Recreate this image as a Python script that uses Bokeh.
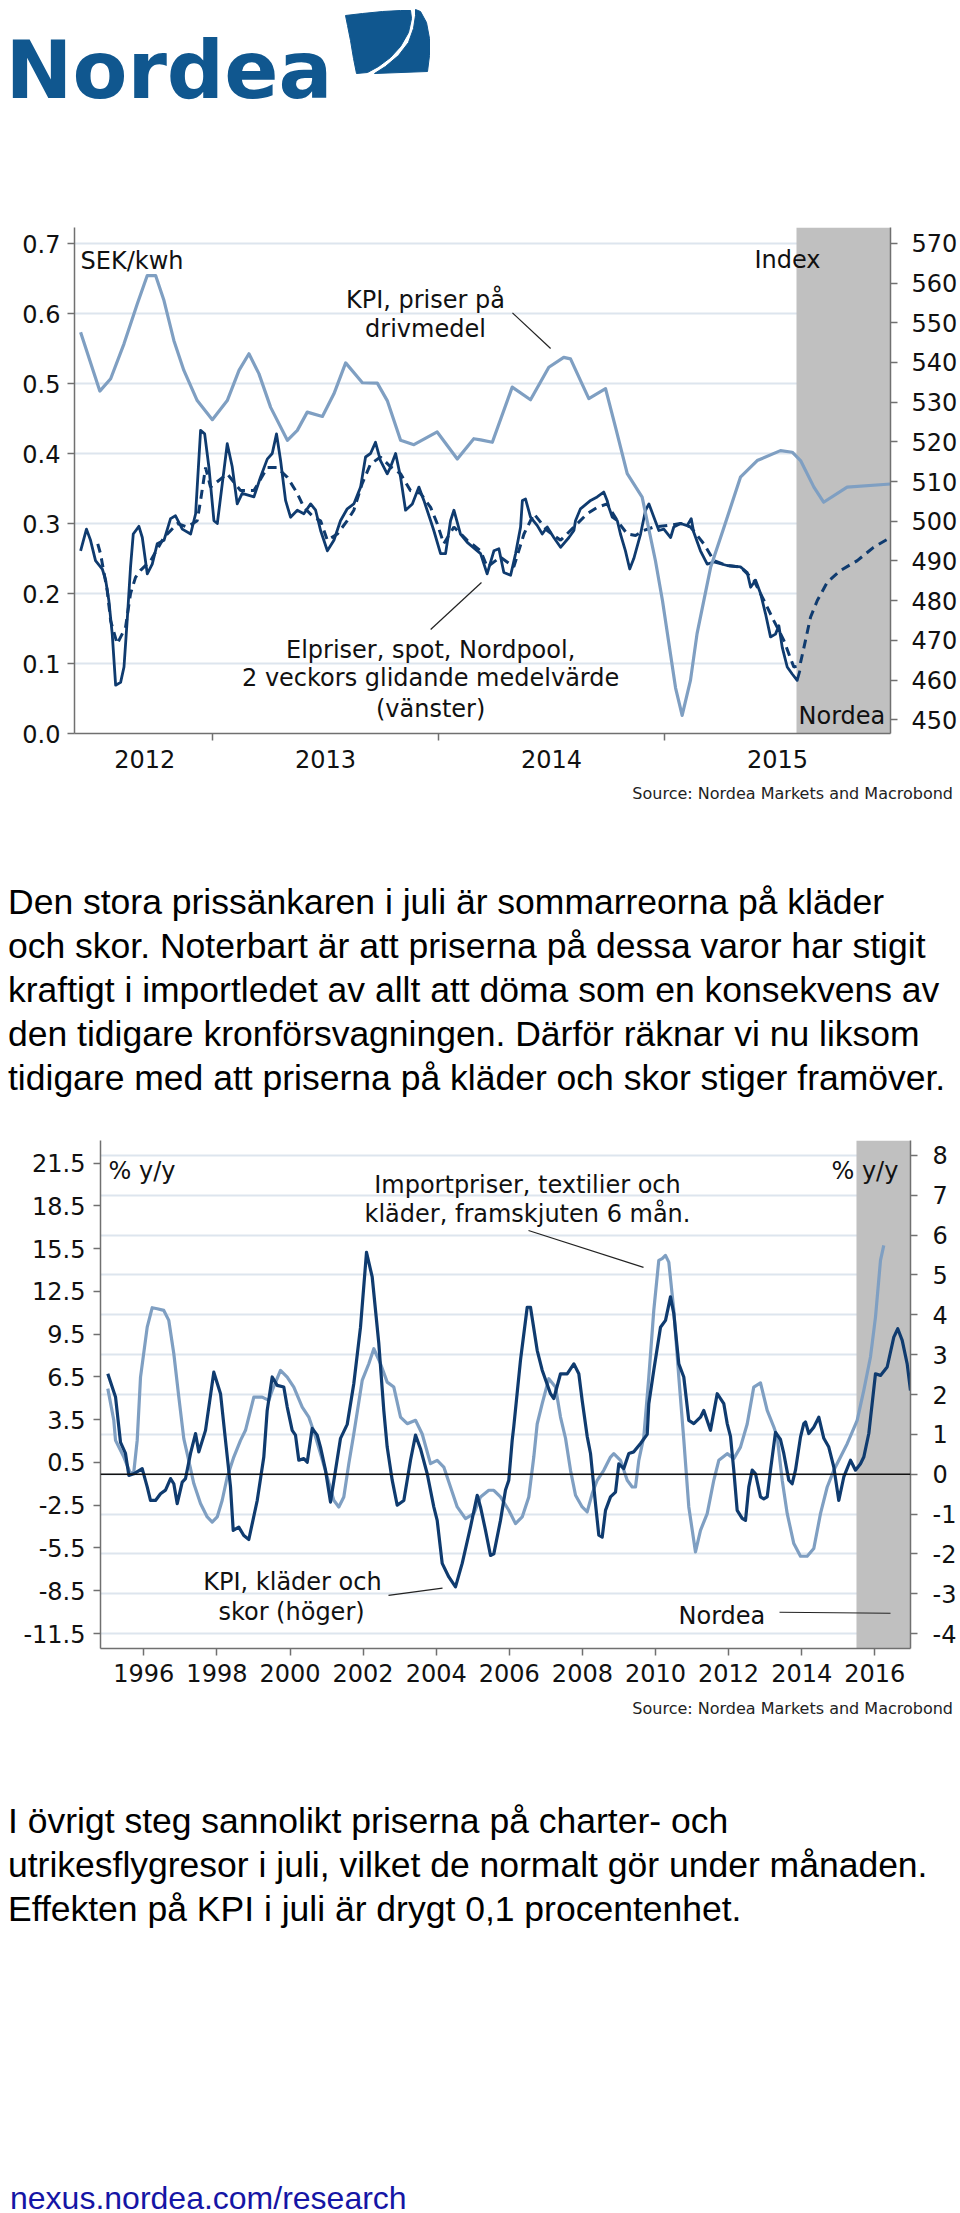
from bokeh.plotting import figure
from bokeh.models import (Range1d, LinearAxis, FixedTicker, NumeralTickFormatter,
                          CustomJSTickFormatter, BoxAnnotation, Span, Div, Grid)
from bokeh.layouts import column
from bokeh.core.properties import value
from bokeh.embed import file_html
from bokeh.resources import INLINE

# ---------------- data: chart 1 (fractional years) ----------------
# Elpriser spot Nordpool, SEK/kwh (left axis)
el_spot = [
    (2012.416, 0.261), (2012.442, 0.292), (2012.460, 0.276), (2012.482, 0.247), (2012.512, 0.235),
    (2012.527, 0.219), (2012.541, 0.190), (2012.556, 0.142), (2012.571, 0.069), (2012.593, 0.073),
    (2012.608, 0.095), (2012.623, 0.166), (2012.637, 0.238), (2012.649, 0.285), (2012.674, 0.296),
    (2012.689, 0.280), (2012.711, 0.228), (2012.733, 0.242), (2012.755, 0.271), (2012.785, 0.276),
    (2012.814, 0.307), (2012.836, 0.311), (2012.866, 0.292), (2012.903, 0.285), (2012.925, 0.314),
    (2012.947, 0.433), (2012.965, 0.428), (2012.984, 0.380), (2013.006, 0.304), (2013.021, 0.300),
    (2013.043, 0.357), (2013.065, 0.414), (2013.087, 0.381), (2013.109, 0.328), (2013.131, 0.343),
    (2013.183, 0.338), (2013.212, 0.366), (2013.242, 0.392), (2013.264, 0.400), (2013.283, 0.428),
    (2013.301, 0.390), (2013.323, 0.333), (2013.345, 0.309), (2013.375, 0.319), (2013.404, 0.314),
    (2013.434, 0.328), (2013.456, 0.319), (2013.478, 0.290), (2013.508, 0.261), (2013.537, 0.276),
    (2013.566, 0.304), (2013.596, 0.321), (2013.625, 0.328), (2013.655, 0.352), (2013.677, 0.395),
    (2013.699, 0.400), (2013.721, 0.416), (2013.743, 0.390), (2013.773, 0.371), (2013.788, 0.381),
    (2013.810, 0.400), (2013.832, 0.366), (2013.854, 0.319), (2013.884, 0.328), (2013.913, 0.352),
    (2013.935, 0.333), (2013.965, 0.304), (2013.979, 0.290), (2014.009, 0.257), (2014.031, 0.257),
    (2014.053, 0.304), (2014.068, 0.319), (2014.097, 0.285), (2014.127, 0.273), (2014.186, 0.257),
    (2014.215, 0.228), (2014.245, 0.261), (2014.267, 0.264), (2014.289, 0.230), (2014.319, 0.226),
    (2014.341, 0.257), (2014.363, 0.295), (2014.371, 0.333), (2014.385, 0.335), (2014.407, 0.309),
    (2014.437, 0.297), (2014.459, 0.285), (2014.481, 0.295), (2014.510, 0.280), (2014.540, 0.266),
    (2014.577, 0.280), (2014.599, 0.290), (2014.606, 0.304), (2014.628, 0.321), (2014.673, 0.333),
    (2014.702, 0.338), (2014.731, 0.345), (2014.746, 0.333), (2014.754, 0.323), (2014.769, 0.309),
    (2014.791, 0.304), (2014.805, 0.285), (2014.827, 0.261), (2014.846, 0.235), (2014.864, 0.250),
    (2014.894, 0.285), (2014.916, 0.319), (2014.931, 0.328), (2014.953, 0.309), (2014.975, 0.290),
    (2014.997, 0.292), (2015.027, 0.280), (2015.041, 0.295), (2015.071, 0.300), (2015.100, 0.297),
    (2015.118, 0.307), (2015.129, 0.288), (2015.159, 0.261), (2015.189, 0.242), (2015.218, 0.245),
    (2015.277, 0.240), (2015.336, 0.238), (2015.366, 0.230), (2015.381, 0.209), (2015.403, 0.219),
    (2015.425, 0.200), (2015.447, 0.171), (2015.469, 0.138), (2015.491, 0.142), (2015.506, 0.154),
    (2015.521, 0.123), (2015.543, 0.095), (2015.565, 0.085), (2015.587, 0.076), (2015.599, 0.090),
]
# 2 veckors glidande medelvärde + terminer (dashed, left axis)
el_ma = [
    (2012.492, 0.271), (2012.504, 0.257), (2012.534, 0.204), (2012.549, 0.161), (2012.578, 0.128),
    (2012.615, 0.152), (2012.637, 0.200), (2012.659, 0.223), (2012.681, 0.233), (2012.726, 0.247),
    (2012.785, 0.280), (2012.844, 0.300), (2012.888, 0.295), (2012.932, 0.304), (2012.947, 0.333),
    (2012.969, 0.380), (2012.991, 0.352), (2013.065, 0.371), (2013.124, 0.347), (2013.183, 0.347),
    (2013.242, 0.380), (2013.286, 0.380), (2013.331, 0.366), (2013.375, 0.343), (2013.404, 0.323),
    (2013.448, 0.309), (2013.478, 0.304), (2013.508, 0.276), (2013.552, 0.285), (2013.596, 0.304),
    (2013.625, 0.319), (2013.662, 0.357), (2013.699, 0.385), (2013.743, 0.395), (2013.788, 0.381),
    (2013.832, 0.371), (2013.876, 0.347), (2013.920, 0.343), (2013.965, 0.323), (2013.994, 0.300),
    (2014.023, 0.271), (2014.068, 0.295), (2014.127, 0.276), (2014.186, 0.261), (2014.215, 0.238),
    (2014.274, 0.252), (2014.333, 0.238), (2014.378, 0.285), (2014.422, 0.314), (2014.481, 0.290),
    (2014.540, 0.276), (2014.599, 0.295), (2014.658, 0.314), (2014.702, 0.323), (2014.746, 0.328),
    (2014.791, 0.304), (2014.835, 0.285), (2014.872, 0.283), (2014.908, 0.290), (2014.953, 0.295),
    (2015.012, 0.297), (2015.071, 0.300), (2015.115, 0.295), (2015.174, 0.271), (2015.218, 0.247),
    (2015.277, 0.240), (2015.336, 0.238), (2015.395, 0.219), (2015.440, 0.190), (2015.484, 0.161),
    (2015.528, 0.133), (2015.572, 0.095), (2015.599, 0.097), (2015.617, 0.123), (2015.646, 0.166),
    (2015.676, 0.190), (2015.720, 0.216), (2015.779, 0.233), (2015.853, 0.247), (2015.925, 0.266),
    (2016.000, 0.280),
]
# KPI, priser på drivmedel, index (right axis)
kpi_fuel = [
    (2012.416, 547.6), (2012.501, 532.8), (2012.549, 535.9), (2012.608, 544.7), (2012.667, 554.8),
    (2012.711, 561.9), (2012.748, 561.9), (2012.785, 555.6), (2012.829, 545.5), (2012.873, 538.0),
    (2012.932, 530.4), (2012.999, 525.6), (2013.065, 530.4), (2013.117, 538.0), (2013.161, 542.2),
    (2013.205, 537.2), (2013.257, 528.7), (2013.331, 520.4), (2013.375, 522.9), (2013.419, 527.5),
    (2013.486, 526.4), (2013.537, 532.1), (2013.589, 539.9), (2013.663, 534.9), (2013.729, 534.8),
    (2013.773, 530.4), (2013.832, 520.4), (2013.891, 519.3), (2013.994, 522.5), (2014.083, 515.7),
    (2014.156, 520.8), (2014.186, 520.5), (2014.238, 519.9), (2014.326, 533.8), (2014.407, 530.6),
    (2014.488, 538.8), (2014.554, 541.3), (2014.584, 540.9), (2014.665, 530.9), (2014.739, 533.4),
    (2014.783, 523.7), (2014.835, 512.0), (2014.901, 506.1), (2014.960, 490.0), (2014.991, 480.0),
    (2015.049, 458.0), (2015.078, 451.1), (2015.115, 460.0), (2015.144, 471.7), (2015.204, 488.4),
    (2015.261, 498.1), (2015.336, 511.1), (2015.410, 515.3), (2015.513, 517.8), (2015.565, 517.4),
    (2015.602, 515.3), (2015.661, 508.6), (2015.704, 504.8), (2015.808, 508.6), (2016.000, 509.4),
]
c1_left_ticks = [0.0, 0.1, 0.2, 0.3, 0.4, 0.5, 0.6, 0.7]
c1_right_ticks = [450, 460, 470, 480, 490, 500, 510, 520, 530, 540, 550, 560, 570]
c1_year_bounds = [2013, 2014, 2015]
c1_year_label_pos = [2012.7, 2013.5, 2014.5, 2015.5]
c1_year_labels = ["2012", "2013", "2014", "2015"]
c1_forecast_start = 2015.584

# ---------------- data: chart 2 ----------------
# KPI, kläder och skor, % y/y (right axis)
kpi_clothes = [
    (1995.015, 2.52), (1995.226, 1.94), (1995.363, 0.80), (1995.499, 0.52), (1995.590, -0.03),
    (1995.726, 0.01), (1995.956, 0.14), (1996.093, -0.32), (1996.183, -0.66), (1996.320, -0.66),
    (1996.457, -0.49), (1996.594, -0.40), (1996.731, -0.11), (1996.821, -0.24), (1996.914, -0.74),
    (1997.051, -0.20), (1997.141, -0.11), (1997.278, 0.52), (1997.415, 1.02), (1997.505, 0.56),
    (1997.688, 1.10), (1997.915, 2.56), (1998.099, 2.02), (1998.235, 0.85), (1998.372, -0.32),
    (1998.446, -1.41), (1998.599, -1.33), (1998.736, -1.54), (1998.873, -1.64), (1999.103, -0.66),
    (1999.283, 0.43), (1999.376, 1.60), (1999.513, 2.44), (1999.650, 2.23), (1999.830, 2.19),
    (1999.923, 1.69), (2000.060, 1.10), (2000.150, 0.98), (2000.241, 0.35), (2000.378, 0.39),
    (2000.471, 0.30), (2000.607, 1.15), (2000.744, 0.98), (2000.834, 0.68), (2000.971, 0.10),
    (2001.108, -0.70), (2001.245, 0.10), (2001.382, 0.90), (2001.565, 1.25), (2001.745, 2.27),
    (2001.929, 3.69), (2002.093, 5.57), (2002.249, 4.95), (2002.430, 3.28), (2002.566, 1.60),
    (2002.659, 0.68), (2002.796, -0.15), (2002.933, -0.78), (2003.114, -0.66), (2003.297, 0.35),
    (2003.434, 0.98), (2003.570, 0.64), (2003.754, 0.01), (2003.934, -0.82), (2004.027, -1.16),
    (2004.164, -2.24), (2004.345, -2.58), (2004.528, -2.83), (2004.711, -2.24), (2004.938, -1.33),
    (2005.122, -0.53), (2005.212, -0.82), (2005.349, -1.41), (2005.486, -2.04), (2005.576, -2.00),
    (2005.759, -1.16), (2005.896, -0.40), (2005.986, -0.15), (2006.079, 0.85), (2006.123, 1.20),
    (2006.306, 2.86), (2006.490, 4.19), (2006.580, 4.19), (2006.763, 3.11), (2006.900, 2.61),
    (2007.127, 2.02), (2007.218, 1.90), (2007.401, 2.52), (2007.584, 2.52), (2007.765, 2.77),
    (2007.902, 2.52), (2007.994, 1.85), (2008.131, 0.95), (2008.222, 0.52), (2008.358, -0.74),
    (2008.449, -1.53), (2008.542, -1.58), (2008.632, -0.91), (2008.769, -0.57), (2008.906, -0.45),
    (2008.996, 0.26), (2009.133, 0.14), (2009.270, 0.52), (2009.406, 0.56), (2009.590, 0.77),
    (2009.773, 1.00), (2009.817, 1.77), (2009.953, 2.61), (2010.137, 3.69), (2010.274, 3.86),
    (2010.410, 4.45), (2010.501, 4.03), (2010.638, 2.77), (2010.774, 2.44), (2010.911, 1.35),
    (2011.048, 1.27), (2011.231, 1.43), (2011.321, 1.60), (2011.504, 1.10), (2011.688, 2.02),
    (2011.869, 1.77), (2011.962, 1.27), (2012.052, 0.95), (2012.142, 0.10), (2012.235, -0.91),
    (2012.372, -1.11), (2012.463, -1.16), (2012.553, -0.32), (2012.646, 0.10), (2012.736, 0.01),
    (2012.873, -0.57), (2012.963, -0.62), (2013.056, -0.57), (2013.146, 0.10), (2013.283, 1.05),
    (2013.420, 0.87), (2013.510, 0.52), (2013.647, -0.15), (2013.740, -0.24), (2013.830, 0.10),
    (2013.967, 0.93), (2014.057, 1.27), (2014.104, 1.31), (2014.194, 1.02), (2014.331, 1.18),
    (2014.468, 1.43), (2014.605, 0.90), (2014.741, 0.68), (2014.878, 0.18), (2015.015, -0.66),
    (2015.152, -0.07), (2015.335, 0.35), (2015.472, 0.10), (2015.609, 0.26), (2015.699, 0.43),
    (2015.836, 1.02), (2016.019, 2.52), (2016.156, 2.48), (2016.339, 2.69), (2016.520, 3.44),
    (2016.629, 3.65), (2016.750, 3.36), (2016.886, 2.77), (2016.977, 2.10),
]
# Importpriser, textilier och kläder, framskjuten 6 mån., % y/y (left axis)
import_textiles = [
    (1995.015, 5.68), (1995.179, 3.46), (1995.226, 2.05), (1995.453, 0.88), (1995.636, -0.28),
    (1995.726, -0.17), (1995.819, 2.05), (1995.910, 6.49), (1996.093, 10.00), (1996.230, 11.36),
    (1996.367, 11.29), (1996.547, 11.17), (1996.684, 10.47), (1996.821, 8.13), (1996.958, 5.09),
    (1997.094, 2.17), (1997.187, 1.12), (1997.368, -0.98), (1997.551, -2.38), (1997.735, -3.32),
    (1997.871, -3.68), (1998.008, -3.32), (1998.145, -2.15), (1998.282, -0.52), (1998.462, 0.88),
    (1998.646, 2.05), (1998.782, 2.76), (1999.010, 5.09), (1999.239, 5.09), (1999.420, 4.86),
    (1999.513, 5.56), (1999.740, 6.96), (1999.923, 6.49), (2000.104, 5.79), (2000.334, 4.39),
    (2000.514, 3.69), (2000.698, 2.30), (2000.834, 1.12), (2001.018, -0.52), (2001.198, -2.15),
    (2001.335, -2.62), (2001.472, -1.92), (2001.609, 0.42), (2001.745, 2.50), (2001.975, 6.26),
    (2002.156, 7.43), (2002.293, 8.48), (2002.476, 7.43), (2002.659, 6.14), (2002.840, 5.79),
    (2003.023, 3.69), (2003.207, 3.22), (2003.434, 3.46), (2003.617, 2.50), (2003.844, 0.42),
    (2004.027, 0.65), (2004.208, 0.18), (2004.391, -1.22), (2004.575, -2.62), (2004.802, -3.44),
    (2005.029, -3.09), (2005.212, -1.92), (2005.439, -1.45), (2005.576, -1.45), (2005.759, -1.92),
    (2005.986, -2.85), (2006.170, -3.79), (2006.353, -3.32), (2006.533, -1.92), (2006.670, 0.88),
    (2006.763, 3.20), (2006.900, 4.63), (2007.081, 6.38), (2007.264, 5.79), (2007.401, 3.69),
    (2007.538, 2.20), (2007.675, -0.05), (2007.812, -1.80), (2007.994, -2.62), (2008.131, -2.97),
    (2008.268, -1.68), (2008.405, -0.75), (2008.585, -0.05), (2008.769, 0.88), (2008.859, 1.12),
    (2009.042, 0.65), (2009.226, -0.75), (2009.363, -1.22), (2009.453, -1.22), (2009.543, 0.65),
    (2009.680, 2.30), (2009.817, 6.49), (2009.953, 11.17), (2010.090, 14.68), (2010.183, 14.80),
    (2010.273, 15.03), (2010.364, 14.56), (2010.501, 11.17), (2010.638, 6.49), (2010.774, 2.10),
    (2010.911, -2.62), (2011.094, -5.78), (2011.231, -4.26), (2011.415, -3.09), (2011.595, -0.75),
    (2011.732, 0.65), (2011.962, 1.12), (2012.142, 0.77), (2012.325, 1.58), (2012.509, 3.20),
    (2012.689, 5.79), (2012.873, 6.09), (2013.056, 4.16), (2013.237, 2.99), (2013.330, 2.30),
    (2013.467, -0.75), (2013.604, -3.09), (2013.784, -5.19), (2013.967, -6.08), (2014.150, -6.08),
    (2014.331, -5.54), (2014.514, -3.09), (2014.698, -1.22), (2014.878, -0.05), (2015.062, 0.88),
    (2015.245, 1.82), (2015.425, 2.90), (2015.518, 3.46), (2015.699, 5.56), (2015.882, 7.90),
    (2016.019, 10.70), (2016.156, 14.68), (2016.246, 15.73),
]
c2_left_ticks = [-11.5, -8.5, -5.5, -2.5, 0.5, 3.5, 6.5, 9.5, 12.5, 15.5, 18.5, 21.5]
c2_right_ticks = [-4, -3, -2, -1, 0, 1, 2, 3, 4, 5, 6, 7, 8]
c2_year_ticks = [1996, 1998, 2000, 2002, 2004, 2006, 2008, 2010, 2012, 2014, 2016]
c2_forecast_start = 2015.499

# ---------------- texts ----------------
para1_lines = [
    "Den stora prissänkaren i juli är sommarreorna på kläder",
    "och skor. Noterbart är att priserna på dessa varor har stigit",
    "kraftigt i importledet av allt att döma som en konsekvens av",
    "den tidigare kronförsvagningen. Därför räknar vi nu liksom",
    "tidigare med att priserna på kläder och skor stiger framöver.",
]
para2_lines = [
    "I övrigt steg sannolikt priserna på charter- och",
    "utrikesflygresor i juli, vilket de normalt gör under månaden.",
    "Effekten på KPI i juli är drygt 0,1 procentenhet.",
]
source_text = "Source: Nordea Markets and Macrobond"
footer_text = "nexus.nordea.com/research"

# ---------------- styling ----------------
W = 960
FONT = "DejaVu Sans"
DARK = "#0f3b6f"
LIGHT = "#7f9fc2"
GRIDC = "#dde5ee"
SHADE = "#c0c0c0"
AXISC = "#707070"
TXT = "#111111"
LOGO = "#10578f"


def xs(series):
    return [a for a, _ in series]


def ys(series):
    return [b for _, b in series]


def no_align(p):
    try:
        p.frame_align = False
    except Exception:
        pass


def style_axis(ax, size="24px", standoff=7):
    ax.axis_line_color = AXISC
    ax.axis_line_width = 1.5
    ax.major_tick_line_color = AXISC
    ax.major_tick_line_width = 1.5
    ax.major_tick_out = 7
    ax.major_tick_in = 0
    ax.minor_tick_line_color = None
    ax.major_label_text_font = FONT
    ax.major_label_text_font_size = size
    ax.major_label_text_color = TXT
    ax.major_label_standoff = standoff


def add_texts(p, xs_, ys_, texts, align, size="24px"):
    p.text(x=xs_, y=ys_, text=texts, text_font=value(FONT), text_font_size=size,
           text_align=align, text_baseline="alphabetic", text_color=TXT)


# ---------------- logo (page pixel space) ----------------
logo = figure(width=W, height=168, x_range=Range1d(0, 960), y_range=Range1d(168, 0),
              toolbar_location=None, output_backend="svg", min_border=0,
              min_border_left=0, min_border_right=0, min_border_top=0, min_border_bottom=0,
              x_axis_location=None, y_axis_location=None, outline_line_color=None)
no_align(logo)
logo.grid.visible = False
logo.text(x=[5], y=[70], text=["Nordea"], text_font=value("DejaVu Sans"),
          text_font_style="bold", text_font_size="80px", text_baseline="alphabetic",
          text_color=LOGO)
logo.patch(x=[345, 362, 382, 400, 410, 411, 408, 400, 390, 378, 367, 356, 353, 350, 347],
           y=[15, 13, 11, 10, 10, 18, 32, 46, 57, 66, 72, 73, 58, 40, 25],
           fill_color=LOGO, line_color=LOGO, line_width=1)
logo.patch(x=[415, 420, 426, 429, 429, 427, 374, 385, 398, 408, 413, 415],
           y=[9, 11, 22, 38, 55, 71, 73, 66, 55, 42, 28, 15],
           fill_color=LOGO, line_color=LOGO, line_width=1)

# ---------------- chart 1 ----------------
p1 = figure(width=W, height=612, x_range=Range1d(2012.389, 2016.0), y_range=Range1d(0, 0.7229),
            toolbar_location=None, output_backend="svg",
            min_border_left=74, min_border_right=70, min_border_top=59, min_border_bottom=47,
            outline_line_color=None)
no_align(p1)
p1.extra_y_ranges = {"idx": Range1d(446.55, 574.0)}
p1.xgrid.visible = False
p1.ygrid.ticker = FixedTicker(ticks=c1_left_ticks[1:])
p1.ygrid.grid_line_color = GRIDC
p1.ygrid.grid_line_width = 2

ya = p1.left[0]
ya.ticker = FixedTicker(ticks=c1_left_ticks)
ya.formatter = NumeralTickFormatter(format="0.0")
style_axis(ya, "24px", 7)

ra = LinearAxis(y_range_name="idx", ticker=FixedTicker(ticks=c1_right_ticks),
                formatter=NumeralTickFormatter(format="0"))
style_axis(ra, "24px", 14)
p1.add_layout(ra, "right")

xa = p1.below[0]
xa.ticker = FixedTicker(ticks=c1_year_label_pos, minor_ticks=c1_year_bounds)
xa.formatter = CustomJSTickFormatter(args=dict(pos=c1_year_label_pos, lab=c1_year_labels), code="""
const i = pos.findIndex(v => Math.abs(v - tick) < 1e-6);
return i >= 0 ? lab[i] : "";
""")
style_axis(xa, "24px", 9)
xa.major_tick_out = 0
xa.major_tick_line_color = None
xa.minor_tick_line_color = AXISC
xa.minor_tick_line_width = 1.5
xa.minor_tick_out = 7
xa.minor_tick_in = 0

p1.add_layout(BoxAnnotation(left=c1_forecast_start, fill_color=SHADE, fill_alpha=1.0,
                            line_color=None, level="underlay"))

p1.line(xs(el_spot), ys(el_spot), line_color=DARK, line_width=2.8, line_join="round")
p1.line(xs(el_ma), ys(el_ma), line_color=DARK, line_width=3, line_dash="9 6")
p1.line(xs(kpi_fuel), ys(kpi_fuel), y_range_name="idx", line_color=LIGHT, line_width=3.2,
        line_join="round")

add_texts(p1, [2012.416], [0.6757], ["SEK/kwh"], "left")
add_texts(p1, [2015.398], [0.677], ["Index"], "left")
add_texts(p1, [2013.942, 2013.942], [0.620, 0.5786], ["KPI, priser på", "drivmedel"], "center")
add_texts(p1, [2013.965, 2013.965, 2013.965], [0.120, 0.0786, 0.0343],
          ["Elpriser, spot, Nordpool,", "2 veckors glidande medelvärde", "(vänster)"], "center")
add_texts(p1, [2015.593], [0.0243], ["Nordea"], "left")
p1.segment(x0=[2014.327, 2013.965], y0=[0.601, 0.1486], x1=[2014.496, 2014.19], y1=[0.55, 0.2157],
           line_color="#222222", line_width=1.2)

SRC_STYLE = (f"width:{W}px;box-sizing:border-box;padding-right:7px;font-family:'DejaVu Sans';"
             "font-size:16px;line-height:28px;text-align:right;color:#222;white-space:nowrap;")
src1 = Div(text=f'<div style="{SRC_STYLE}">{source_text}</div>', width=W, height=32, margin=0)

# ---------------- paragraph 1 ----------------
PSTYLE = ("font-family:'Liberation Sans',Arial,sans-serif;font-size:35.5px;line-height:44px;"
          "color:#000;white-space:nowrap;padding-left:8px;")
para1 = Div(text=f'<div style="{PSTYLE}padding-top:68px;">' + "<br>".join(para1_lines) + "</div>",
            width=W, height=298, margin=0)

# ---------------- chart 2 ----------------
p2 = figure(width=W, height=585, x_range=Range1d(1994.815, 2016.977),
            y_range=Range1d(-12.552, 23.092), toolbar_location=None, output_backend="svg",
            min_border_left=100, min_border_right=50, min_border_top=30, min_border_bottom=47,
            outline_line_color=None)
no_align(p2)
p2.extra_y_ranges = {"kpi": Range1d(-4.376, 8.376)}
p2.xgrid.visible = False
p2.ygrid.visible = False
p2.add_layout(Grid(dimension=1, ticker=FixedTicker(ticks=c2_right_ticks), y_range_name="kpi",
                   grid_line_color=GRIDC, grid_line_width=2))

ya2 = p2.left[0]
ya2.ticker = FixedTicker(ticks=c2_left_ticks)
ya2.formatter = NumeralTickFormatter(format="0.0")
style_axis(ya2, "24px", 8)

ra2 = LinearAxis(y_range_name="kpi", ticker=FixedTicker(ticks=c2_right_ticks),
                 formatter=NumeralTickFormatter(format="0"))
style_axis(ra2, "24px", 15)
p2.add_layout(ra2, "right")

xa2 = p2.below[0]
xa2.ticker = FixedTicker(ticks=c2_year_ticks)
xa2.formatter = NumeralTickFormatter(format="0")
style_axis(xa2, "24px", 8)

p2.add_layout(BoxAnnotation(left=c2_forecast_start, fill_color=SHADE, fill_alpha=1.0,
                            line_color=None, level="underlay"))
p2.add_layout(Span(location=0, dimension="width", y_range_name="kpi",
                   line_color="#111111", line_width=1.5))

p2.line(xs(import_textiles), ys(import_textiles), line_color=LIGHT, line_width=3.2,
        line_join="round")
p2.line(xs(kpi_clothes), ys(kpi_clothes), y_range_name="kpi", line_color=DARK, line_width=3.2,
        line_join="round")

add_texts(p2, [1995.034, 2014.815], [20.92, 20.92], ["% y/y", "% y/y"], "left")
add_texts(p2, [2006.498, 2006.498], [19.936, 17.90],
          ["Importpriser, textilier och", "kläder, framskjuten 6 mån."], "center")
add_texts(p2, [2000.068, 2000.041], [-7.91, -10.01], ["KPI, kläder och", "skor (höger)"], "center")
add_texts(p2, [2010.63], [-10.29], ["Nordea"], "left")
p2.segment(x0=[2006.525, 2002.695, 2013.393], y0=[16.78, -8.82, -10.01],
           x1=[2009.672, 2004.172, 2016.43], y1=[14.19, -8.32, -10.08],
           line_color="#222222", line_width=1.2)

src2 = Div(text=f'<div style="{SRC_STYLE}">{source_text}</div>', width=W, height=35, margin=0)

# ---------------- paragraph 2 + footer ----------------
para2 = Div(text=f'<div style="{PSTYLE}padding-top:69px;">' + "<br>".join(para2_lines) + "</div>",
            width=W, height=430, margin=0)
footer = Div(text='<div style="font-family:\'Liberation Sans\',Arial,sans-serif;font-size:32px;'
                  'line-height:32px;padding-top:22px;padding-left:10px;color:#1515a5;height:52px;'
                  f'overflow:hidden;box-sizing:border-box;white-space:nowrap;">{footer_text}</div>',
             width=W, height=52, margin=0)

page = column(logo, p1, src1, para1, p2, src2, para2, footer, spacing=0)
open("out.html", "w").write(file_html(page, INLINE))
